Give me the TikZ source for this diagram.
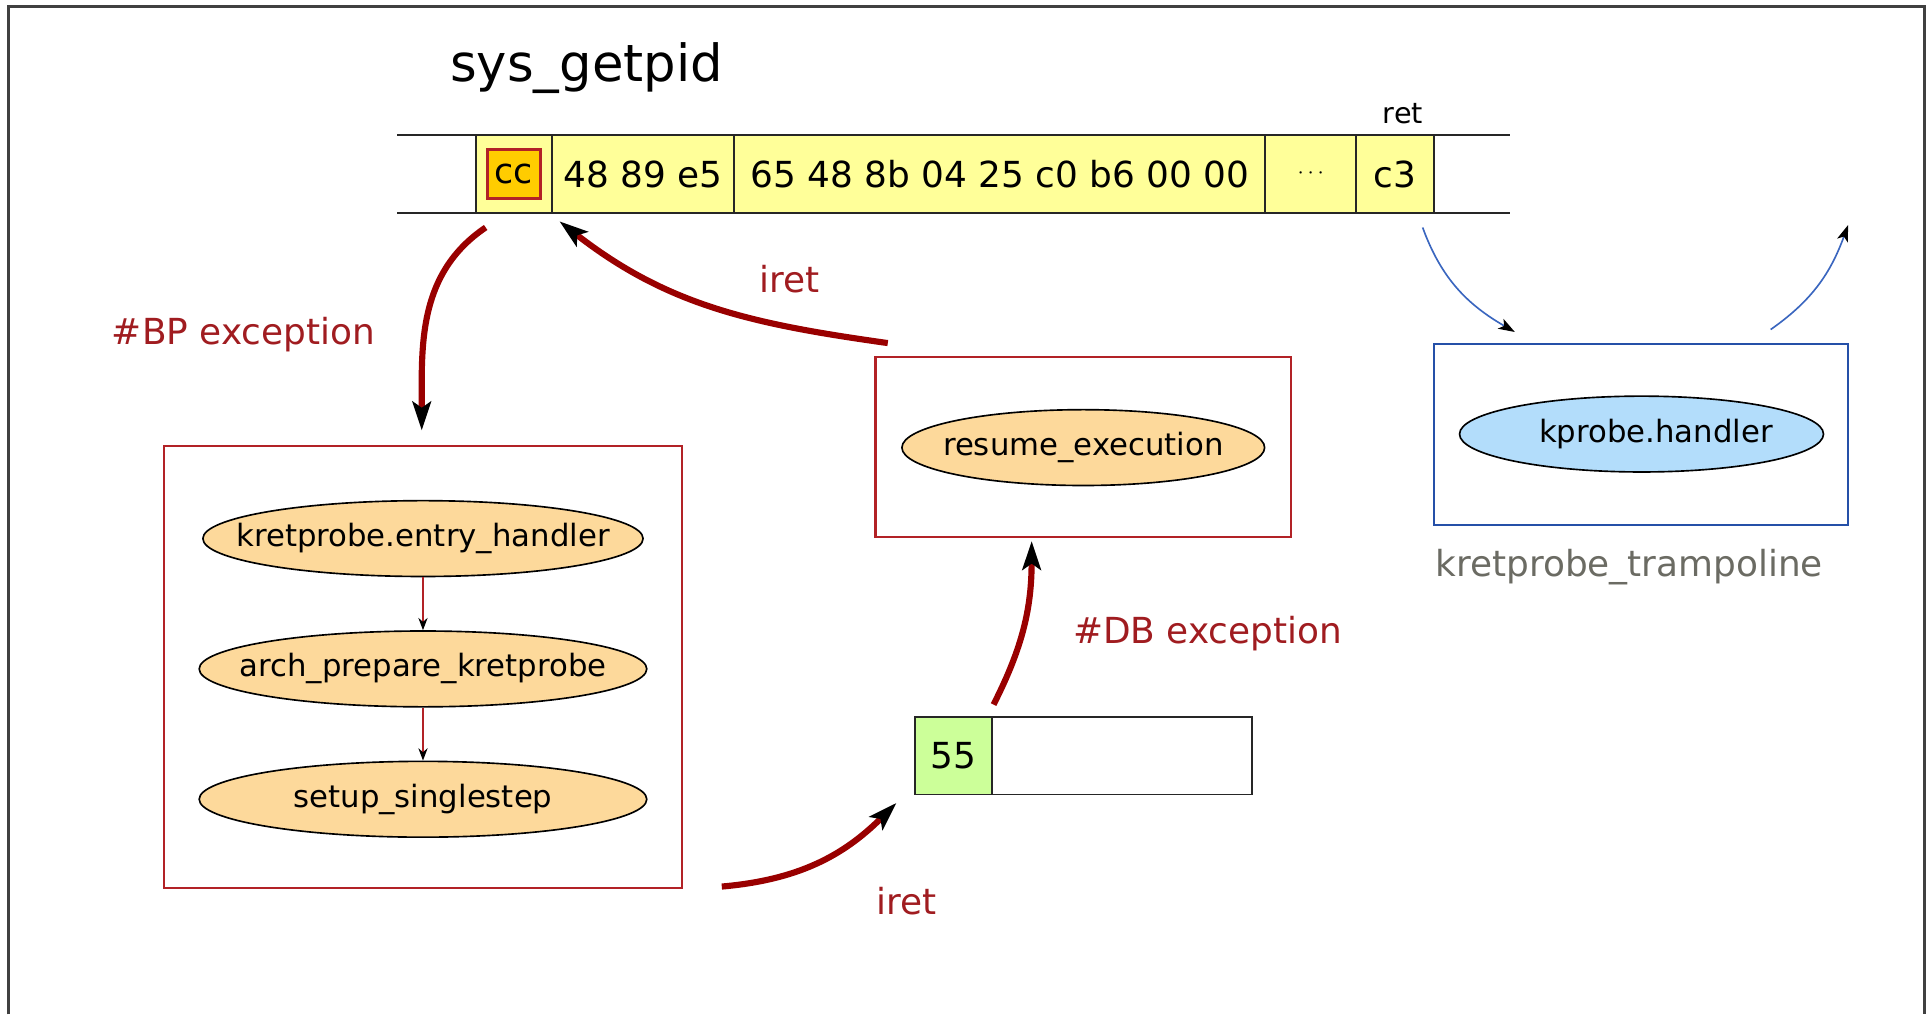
\documentclass[tikz,border=0pt]{standalone}
\usepackage{fontspec}
\setmainfont{DejaVu Sans}
\usepackage{tikz}
\usetikzlibrary{arrows.meta,positioning,shapes.geometric}
\definecolor{framegray}{HTML}{404040}
\definecolor{excred}{HTML}{990000}
\definecolor{lblred}{HTML}{A01C20}
\definecolor{boxred}{HTML}{B22226}
\definecolor{codeyel}{HTML}{FFFF99}
\definecolor{ccorange}{HTML}{FFCC00}
\definecolor{peach}{HTML}{FDD99B}
\definecolor{stepgreen}{HTML}{CCFF99}
\definecolor{tblue}{HTML}{2550A8}
\definecolor{lblue}{HTML}{B3DDFB}
\definecolor{arrblue}{HTML}{3A66BF}
\definecolor{graytext}{HTML}{6B6B63}
\newcommand{\fnname}[1]{\makebox[0pt]{#1}}
\tikzset{
  rowline/.style={draw=black!85, line width=0.8pt},
  cell/.style={draw=black!85, line width=0.8pt, fill=codeyel, minimum height=37.8pt,
    inner sep=0pt, outer sep=0pt, font=\fontsize{17.5}{20}\selectfont},
  fbox/.style={draw=boxred, line width=1pt, inner sep=0pt, outer sep=0pt},
  tbox/.style={draw=tblue, line width=1pt, inner sep=0pt, outer sep=0pt},
  func/.style={ellipse, draw=black, line width=0.8pt, fill=peach, inner sep=0pt,
    minimum height=37pt, font=\fontsize{15}{18}\selectfont},
  excarrow/.style={draw=excred, line width=3pt,
    -{Stealth[length=14pt,width=9pt,inset=3pt,color=black]}},
  callarrow/.style={draw=boxred, line width=0.7pt,
    -{Stealth[length=6pt,width=4.5pt,color=black]}},
  retarrow/.style={draw=arrblue, line width=0.8pt,
    -{Stealth[length=8pt,width=5.5pt,inset=2pt,color=black]}},
  exclbl/.style={text=lblred, inner sep=0pt, font=\fontsize{17.5}{20}\selectfont}
}
\begin{document}
\begin{tikzpicture}[x=0.6pt,y=-0.6pt]
  \useasboundingbox (0,0) rectangle (1568,825);
  \draw[draw=framegray, line width=1.4pt] (7,825) -- (7,5) -- (1565,5) -- (1565,825);

  % sys_getpid bytes
  \node[inner sep=0pt, font=\fontsize{25}{30}\selectfont] (fname) at (477,55) {sys\_getpid};
  \draw[rowline] (323,110) -- (1228,110);
  \draw[rowline] (323,173) -- (1228,173);
  \node[cell, minimum width=37.2pt] (bcc) at (418,141.5) {};
  \node[draw=boxred, line width=1.1pt, fill=ccorange, minimum width=25.8pt, minimum height=24pt,
    inner sep=0pt, font=\fontsize{17}{20}\selectfont] (cc) at (bcc.center) {cc};
  \node[cell, minimum width=88.8pt, anchor=west] (b1) at (bcc.east) {48 89 e5};
  \node[cell, minimum width=259.2pt, anchor=west] (b2) at (b1.east) {65 48 8b 04 25 c0 b6 00 00};
  \node[cell, minimum width=44.4pt, anchor=west, font=\fontsize{11}{12}\selectfont] (b3) at (b2.east) {$\cdots$};
  \node[cell, minimum width=37.8pt, anchor=west] (bret) at (b3.east) {c3};
  \node[inner sep=0pt, font=\fontsize{14}{16}\selectfont] (retlbl) at (1141,92) {ret};

  % int3 handling
  \node[fbox, minimum width=253.2pt, minimum height=215.4pt] (bpbox) at (344,542.5) {};
  \node[func, minimum width=214.8pt] (entry) at (344,438) {\fnname{kretprobe.entry\_handler}};
  \node[func, minimum width=218.4pt] (prep) at (344,544) {\fnname{arch\_prepare\_kretprobe}};
  \node[func, minimum width=218.4pt] (sstep) at (344,650) {\fnname{setup\_singlestep}};
  \draw[callarrow] (entry) -- (prep);
  \draw[callarrow] (prep) -- (sstep);

  % single step
  \node[cell, fill=stepgreen, minimum width=37.8pt] (c55) at (775.5,614.5) {55};
  \node[cell, fill=white, minimum width=126.6pt, anchor=west] (crest) at (c55.east) {};
  \node[fbox, minimum width=202.8pt, minimum height=88.2pt] (dbbox) at (881,363.5) {};
  \node[func, minimum width=177pt] (resume) at (881,364) {\fnname{resume\_execution}};

  % trampoline
  \node[tbox, minimum width=202.2pt, minimum height=88.2pt] (tramp) at (1334.5,353.5) {};
  \node[func, fill=lblue, minimum width=177.6pt] (kph) at (1335,353) {\fnname{\hspace{14pt}kprobe.handler}};
  \node[inner sep=0pt, text=graytext, font=\fontsize{17.5}{20}\selectfont] (trlbl) at (1325,461) {kretprobe\_trampoline};
  \coordinate (back) at (1503,183);

  \draw[excarrow] ([shift={(-23,12)}]bcc.south) to[out=214,in=90] ([shift={(-1,-13)}]bpbox.north);
  \draw[excarrow] ([shift={(32,-1)}]bpbox.south east) to[out=5,in=-135] ([shift={(-15,7)}]c55.south west);
  \draw[excarrow] ([shift={(1,-10)}]c55.north east) to[out=63,in=-90] ([shift={(-42,3)}]dbbox.south);
  \draw[excarrow] ([shift={(10,-11)}]dbbox.north west) to[out=172,in=-38] ([shift={(6,7)}]b1.south west);
  \draw[retarrow] ([shift={(22.5,12)}]bret.south) to[out=-70,in=150] ([shift={(66,-10)}]tramp.north west);
  \draw[retarrow] ([shift={(-63,-12)}]tramp.north east) to[out=35,in=-110] (back);

  \node[exclbl] (bplbl) at (198,272) {\#BP exception};
  \node[exclbl] (iret1) at (642,227) {iret};
  \node[exclbl] (dblbl) at (982,515) {\#DB exception};
  \node[exclbl] (iret2) at (737,733) {iret};
\end{tikzpicture}
\end{document}
